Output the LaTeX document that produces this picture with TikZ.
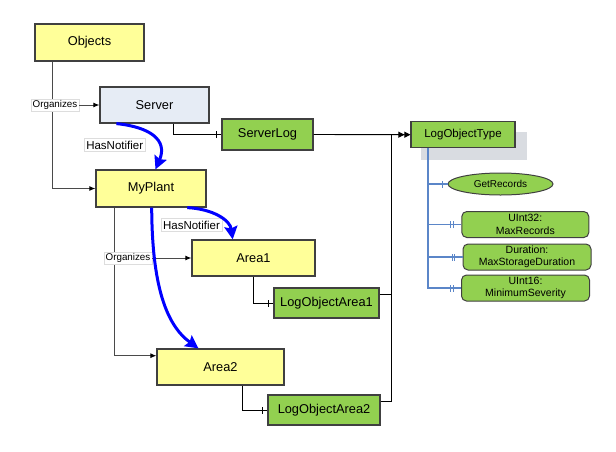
\documentclass[tikz,border=0pt]{standalone}
\usepackage{fontspec}
\setmainfont{Liberation Sans}
\usetikzlibrary{arrows.meta,calc,shapes.geometric,decorations.markings,backgrounds}
\definecolor{ylw}{HTML}{FFFF99}
\definecolor{grn}{HTML}{92D050}
\definecolor{srv}{HTML}{E6ECF5}
\definecolor{bord}{HTML}{404040}
\definecolor{treec}{HTML}{5B86C8}
\definecolor{shad}{HTML}{D9DCE1}
\definecolor{lblb}{HTML}{DDDDDD}
\definecolor{orgc}{HTML}{4A4A4A}
\tikzset{
  box/.style={draw=bord, line width=1.2pt, inner sep=0pt},
  obj/.style={box, fill=ylw, font=\fontsize{12.8}{14}\selectfont},
  srvbox/.style={box, fill=srv, font=\fontsize{12.8}{14}\selectfont},
  logbox/.style={box, fill=grn, font=\fontsize{12.8}{14}\selectfont},
  prop/.style={draw=bord, line width=1pt, fill=grn, rounded corners=5pt, inner sep=0pt,
    align=center, font=\fontsize{10.5}{12.5}\selectfont},
  meth/.style={draw=bord, line width=1pt, fill=grn, ellipse, inner sep=0pt,
    font=\fontsize{10}{12}\selectfont},
  lbl/.style={fill=white, draw=lblb, line width=0.6pt, inner sep=1.5pt},
  orglbl/.style={lbl, font=\fontsize{9.8}{11}\selectfont},
  notiflbl/.style={lbl, font=\fontsize{11.5}{13}\selectfont, inner sep=2pt},
  org/.style={draw=orgc, line width=1pt, -{Latex[length=6pt,width=5pt,color=black]}},
  refl/.style={draw=black, line width=0.9pt},
  treel/.style={draw=treec, line width=1.2pt},
  tickone/.style={postaction=decorate, decoration={markings,
    mark=at position -5pt with {\draw[line width=0.9pt] (0,-3.5pt)--(0,3.5pt);}}},
  ticktwo/.style={postaction=decorate, decoration={markings,
    mark=at position -8pt with {\draw[line width=0.9pt] (0,-3.5pt)--(0,3.5pt);},
    mark=at position -10.5pt with {\draw[line width=0.9pt] (0,-3.5pt)--(0,3.5pt);}}},
  notif/.style={draw=blue, line width=3pt, -{Stealth[length=13pt,width=13pt,inset=2pt]}},
}
\begin{document}
\begin{tikzpicture}[x=1pt,y=-1pt]
\useasboundingbox (0,0) rectangle (616,451);
% nodes
\node[obj, minimum width=109, minimum height=37] (Objects) at (89.5,42.5) {Objects};
\node[srvbox, minimum width=109, minimum height=36] (Server) at (154.5,105) {Server};
\node[logbox, minimum width=91, minimum height=31] (ServerLog) at (267.5,134.5) {ServerLog};
\node[obj, minimum width=110, minimum height=37] (MyPlant) at (151,188.5) {MyPlant};
\node[obj, minimum width=123, minimum height=36] (Area1) at (253.5,258) {Area1};
\node[logbox, minimum width=105, minimum height=30] (LOA1) at (326.5,303) {LogObjectArea1};
\node[obj, minimum width=127, minimum height=36] (Area2) at (220.5,367) {Area2};
\node[logbox, minimum width=112, minimum height=30] (LOA2) at (324,410) {LogObjectArea2};
\node[logbox, minimum width=104, minimum height=26, font=\fontsize{11.5}{13}\selectfont] (LOT) at (463,134.7) {LogObjectType};
\begin{scope}[on background layer]
  \fill[shad] ($(LOT.north west)+(11,11)$) rectangle ($(LOT.south east)+(11.7,11.6)$);
\end{scope}
\node[meth, minimum width=105, minimum height=22] (GetRecords) at (500.5,184) {GetRecords};
\node[prop, minimum width=127, minimum height=26] (MaxRecords) at (525.3,224.5) {UInt32:\\MaxRecords};
\node[prop, minimum width=128, minimum height=26] (MaxStorage) at (527,257) {Duration:\\MaxStorageDuration};
\node[prop, minimum width=128, minimum height=26] (MinSev) at (525.5,288) {UInt16:\\MinimumSeverity};

% organizes
\draw[org] ($(Objects.south west)+(17.7,0)$) |- (MyPlant.west);
\node[orglbl] (org1) at (55,105) {Organizes};
\draw[org] (org1.east) -- (Server.west);
\draw[org] ($(MyPlant.south west)+(19,0)$) |- ($(Area2.west)+(0,-11.3)$);
\node[orglbl] (org2) at (128,258) {Organizes};
\draw[org] (org2.east) -- (Area1.west);

% references to log objects
\draw[refl, tickone] ($(Server.south)+(18.8,0)$) |- (ServerLog.west);
\draw[refl, tickone] (Area1.south) |- (LOA1.west);
\draw[refl, tickone] ($(Area2.south)+(21.5,0)$) |- (LOA2.west);

% type definitions
\coordinate (bus) at (391,134.6);
\draw[refl, -{Triangle[length=6pt,width=6pt]Triangle[length=6pt,width=6pt]}] (ServerLog.east) -- (LOT.west);
\draw[refl] ($(LOA1.east)+(0,-9)$) -| (bus);
\draw[refl] ($(LOA2.east)+(0,-9)$) -| (bus);

% LogObjectType children
\draw[treel, tickone] ($(LOT.south west)+(17.6,0)$) |- (GetRecords.west);
\draw[treel, ticktwo] ($(LOT.south west)+(17.6,0)$) |- (MaxRecords.west);
\draw[treel, ticktwo] ($(LOT.south west)+(17.6,0)$) |- (MaxStorage.west);
\draw[treel, ticktwo] ($(LOT.south west)+(17.6,0)$) |- (MinSev.west);

% HasNotifier
\node[notiflbl] (hn1) at (114.7,145) {HasNotifier};
\node[notiflbl] (hn2) at (191.5,225) {HasNotifier};
\draw[notif] ($(Server.south west)+(17,0)$) .. controls (150,127) and (168,140) .. ($(MyPlant.north)+(4.5,0)$);
\draw[notif] ($(MyPlant.south)+(36.3,0)$) .. controls (213,209) and (230,220) .. ($(Area1.north)+(-20.8,0)$);
\draw[notif] ($(MyPlant.south)+(0.7,0)$) .. controls (152,285) and (166,325) .. ($(Area2.north)+(-22,0)$);
\end{tikzpicture}
\end{document}
